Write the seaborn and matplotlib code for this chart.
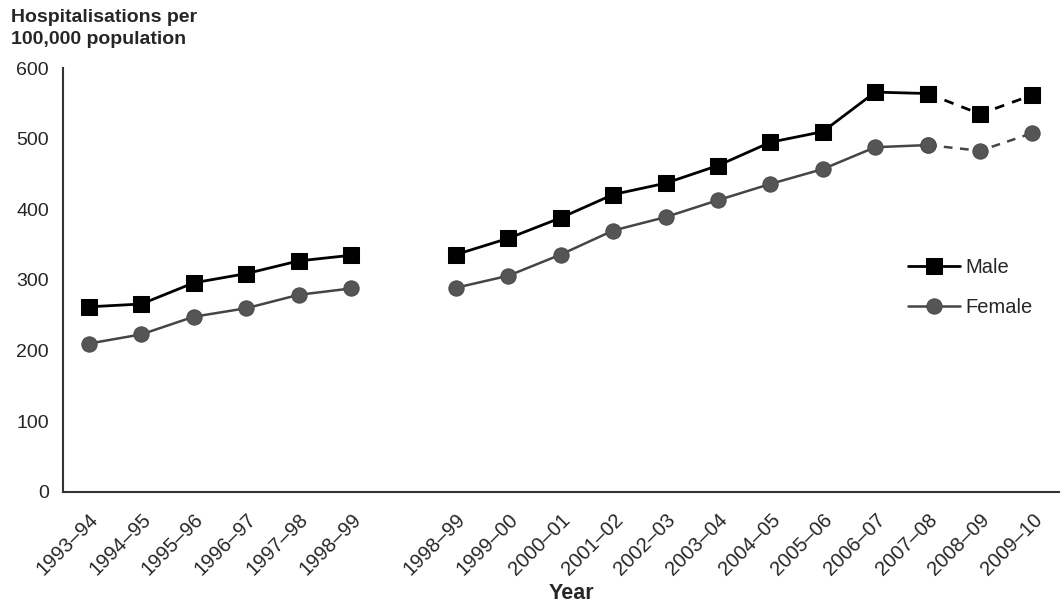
import pandas as pd
import seaborn as sns
import matplotlib
matplotlib.use("Agg")
import matplotlib.pyplot as plt

# === Data ===
# slot labels along the x axis; "" is the empty gap between the two series
periods = ["1993–94", "1994–95", "1995–96", "1996–97", "1997–98", "1998–99", "",
           "1998–99", "1999–00", "2000–01", "2001–02", "2002–03", "2003–04",
           "2004–05", "2005–06", "2006–07", "2007–08", "2008–09", "2009–10"]

male_old = [262, 266, 296, 309, 327, 335]
female_old = [210, 223, 248, 260, 279, 288]

male_new = [336, 359, 388, 421, 437, 462, 495, 510, 566, 564, 535, 562]
female_new = [289, 306, 336, 370, 389, 413, 436, 457, 488, 491, 483, 508]

# last three points of the new series are joined with a dashed line
n_dashed = 3

sns.set_style("white")
plt.rcParams["font.family"] = ["Liberation Sans", "DejaVu Sans"]

# === Build long-format segments ===
rows = []
old_slots = list(range(0, 6))
new_slots = list(range(7, 19))
for sex, old, new in [("Male", male_old, male_new), ("Female", female_old, female_new)]:
    for s, v in zip(old_slots, old):
        rows.append({"slot": s, "rate": v, "sex": sex, "seg": "old"})
    solid_end = len(new) - n_dashed + 1
    for i, (s, v) in enumerate(zip(new_slots, new)):
        if i < solid_end:
            rows.append({"slot": s, "rate": v, "sex": sex, "seg": "new"})
        if i >= solid_end - 1:
            rows.append({"slot": s, "rate": v, "sex": sex, "seg": "dash"})
df = pd.DataFrame(rows)

styles = {
    "Male": dict(color="black", marker="s", markersize=12, linewidth=2.0,
                 markerfacecolor="black", markeredgecolor="black"),
    "Female": dict(color="#454545", marker="o", markersize=11, linewidth=1.8,
                   markerfacecolor="#555555", markeredgecolor="#4a4a4a"),
}

fig = plt.figure(figsize=(10.64, 6.08), dpi=100)
ax = fig.add_axes([0.059, 0.191, 0.936, 0.697])

for sex in ["Male", "Female"]:
    for seg in ["old", "new", "dash"]:
        d = df[(df["sex"] == sex) & (df["seg"] == seg)]
        sns.lineplot(data=d, x="slot", y="rate", ax=ax, sort=False,
                     linestyle=(0, (3.5, 3)) if seg == "dash" else "-",
                     estimator=None,
                     label=sex if seg == "new" else None,
                     **styles[sex])

ax.set_xlim(-0.5, len(periods) - 0.5)
ax.set_ylim(0, 600)
ax.set_yticks(range(0, 601, 100))

ax.set_xticks(range(len(periods)))
ax.set_xticklabels(periods, rotation=45, ha="right", rotation_mode="anchor", fontsize=14.5)
ax.set_xticks([i - 0.5 for i in range(len(periods) + 1)], minor=True)
ax.tick_params(axis="x", which="major", length=0, pad=13)
ax.tick_params(axis="x", which="minor", length=6, width=1.4, color="#333333", direction="out")
ax.tick_params(axis="y", length=6, width=1.4, color="#333333", direction="out",
               labelsize=14, pad=4)

for side in ["top", "right"]:
    ax.spines[side].set_visible(False)
for side in ["left", "bottom"]:
    ax.spines[side].set_color("#333333")
    ax.spines[side].set_linewidth(1.5)

ax.set_xlabel("Year", fontsize=15.5, fontweight="bold")
ax.xaxis.set_label_coords(0.511, -0.24)
ax.xaxis.label.set_verticalalignment("center")
ax.set_ylabel("")
fig.text(0.01, 0.985, "Hospitalisations per\n100,000 population", fontsize=14,
         fontweight="bold", va="top", ha="left", linespacing=1.4)

leg = ax.legend(loc="upper left", bbox_to_anchor=(0.83, 0.595), frameon=False,
                fontsize=14.5, handlelength=2.6, handletextpad=0.25, labelspacing=1.05)

plt.savefig("out.png", dpi=100)
plt.close()
